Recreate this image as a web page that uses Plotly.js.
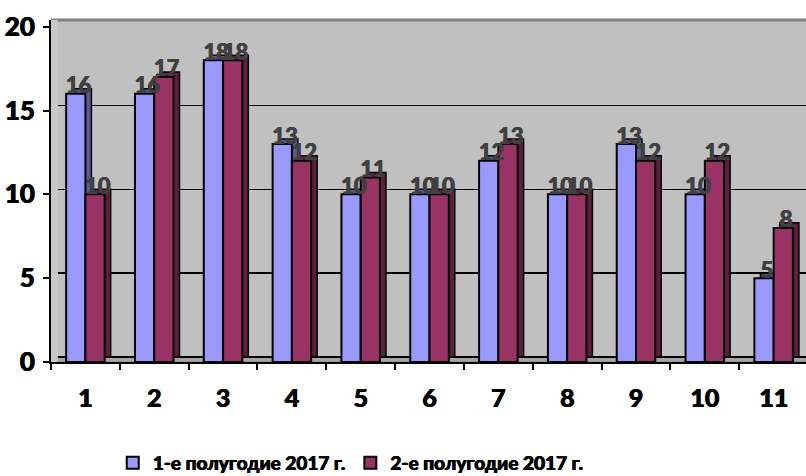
<!DOCTYPE html>
<html>
<head>
<meta charset="utf-8">
<script src="https://cdn.plot.ly/plotly-3.0.1.min.js"></script>
<style>html,body{margin:0;padding:0;background:#fff;}#chart{width:806px;height:476px;}</style>
</head>
<body>
<div id="chart"></div>
<script>
const categories = [1, 2, 3, 4, 5, 6, 7, 8, 9, 10, 11];
const categoryLabels = ['1', '2', '3', '4', '5', '6', '7', '8', '9', '10', '11'];
const half1 = [16, 16, 18, 13, 10, 10, 12, 10, 13, 10, 5];
const half2 = [10, 17, 18, 12, 11, 10, 13, 10, 12, 12, 8];
const seriesNames = ['1-е полугодие 2017 г.', '2-е полугодие 2017 г.'];
const yTicks = [0, 5, 10, 15, 20];

const FONT = 'Lato, Open Sans, DejaVu Sans, sans-serif';
const BAR_W = 0.28, DEPTH_X = 0.087, DEPTH_Y = 0.3;
const HEAVY = '0.5px 0 0 #000, -0.3px 0 0 #000';
const HEAVY_G = '0.5px 0 0 #404040, -0.3px 0 0 #404040';

function shadow(vals, off, color) {
  return {type: 'bar', x: categories, y: vals, yaxis: 'y', offset: off + DEPTH_X, width: BAR_W,
    marker: {color: color, line: {color: '#000', width: 1.5}}, showlegend: false, hoverinfo: 'skip'};
}
function front(vals, off, color, name) {
  return {type: 'bar', x: categories, y: vals, yaxis: 'y2', offset: off, width: BAR_W, name: name,
    marker: {color: color, line: {color: '#000', width: 2}}};
}
function labels(vals, dx) {
  return {type: 'scatter', mode: 'text', yaxis: 'y2', cliponaxis: false, showlegend: false, hoverinfo: 'skip',
    x: categories.map(c => c + dx), y: vals.map(v => v + 0.36), text: vals.map(String),
    textposition: 'middle center', textfont: {family: FONT, size: 22, weight: 900, color: '#404040', shadow: HEAVY_G}};
}

const data = [
  shadow(half1, -BAR_W, '#5a5a96'),
  shadow(half2, 0, '#5c1f3d'),
  front(half1, -BAR_W, '#9999ff', seriesNames[0]),
  front(half2, 0, '#993366', seriesNames[1]),
  labels(half1, -0.1),
  labels(half2, 0.18)
];

const layout = {
  width: 806, height: 476,
  margin: {l: 51, r: 0, t: 20, b: 114, autoexpand: false},
  paper_bgcolor: '#ffffff', plot_bgcolor: '#c0c0c0',
  barmode: 'overlay',
  font: {family: FONT, color: '#000'},
  xaxis: {
    range: [0.5, 11.47], tickmode: 'array', tickvals: categories, ticktext: categoryLabels,
    ticks: '', showline: true, linecolor: '#000', linewidth: 2, showgrid: false, zeroline: false,
    tickfont: {family: FONT, size: 25, weight: 900, color: '#000', shadow: HEAVY}, ticklabelstandoff: 13,
    minor: {tickmode: 'linear', tick0: 0.5, dtick: 1, ticks: 'outside', ticklen: 6, tickwidth: 2, tickcolor: '#000', showgrid: false}
  },
  yaxis: {
    range: [-DEPTH_Y, 20.4 - DEPTH_Y], tickmode: 'array', tickvals: [0, 5, 10, 15],
    showgrid: true, gridcolor: '#000', gridwidth: 1.5, showticklabels: false, ticks: '',
    showline: false, zeroline: false
  },
  yaxis2: {
    overlaying: 'y', side: 'left', range: [0, 20.4], tickmode: 'array', tickvals: yTicks,
    ticks: 'outside', ticklen: 6, tickwidth: 2, tickcolor: '#000', showline: true, linecolor: '#000', linewidth: 2,
    showgrid: false, zeroline: false, ticklabelstandoff: 3,
    tickfont: {family: FONT, size: 26, weight: 900, color: '#000', shadow: HEAVY}
  },
  shapes: [
    {type: 'rect', xref: 'paper', yref: 'y', x0: 0, x1: 1, y0: -DEPTH_Y, y1: 0, fillcolor: '#a6a6a6', line: {color: '#808080', width: 1}, layer: 'between'},
    {type: 'rect', xref: 'x', yref: 'y', x0: 0.5, x1: 0.5 + 0.1, y0: -DEPTH_Y, y1: 20.4 - DEPTH_Y, fillcolor: '#c8c8c8', line: {width: 0}, layer: 'between'},
    {type: 'line', xref: 'paper', yref: 'paper', x0: 0, x1: 1, y0: 1, y1: 1, line: {color: '#808080', width: 3}, layer: 'between'}
  ],
  legend: {
    orientation: 'h', x: 0.397, xanchor: 'center', y: -0.295, yanchor: 'middle',
    font: {family: FONT, size: 19, weight: 900, color: '#000', shadow: HEAVY}, bgcolor: 'rgba(0,0,0,0)'
  },
  showlegend: true
};

Plotly.newPlot('chart', data, layout, {displayModeBar: false, staticPlot: true});
</script>
</body>
</html>
